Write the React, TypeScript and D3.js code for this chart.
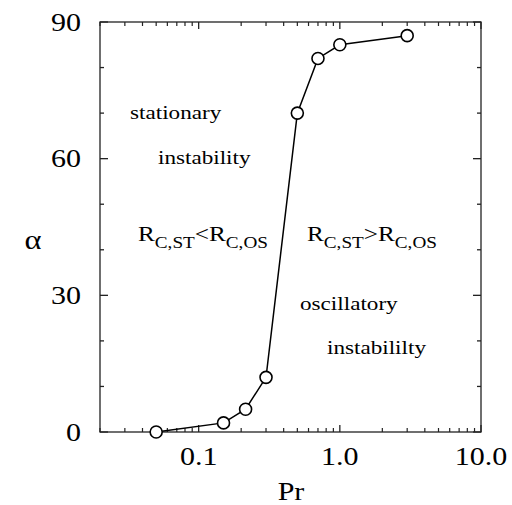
import React from "react";
import * as d3 from "d3";

const prValues = [0.05, 0.15, 0.215, 0.3, 0.5, 0.7, 1.0, 3.0];
const alphaValues = [0, 2, 5, 12, 70, 82, 85, 87];
const xTickLabels = ["0.1", "1.0", "10.0"];
const xTickValues = [0.1, 1, 10];
const yTickValues = [0, 30, 60, 90];

const W = 512;
const H = 505;
const left = 100;
const right = 481;
const top = 22;
const bottom = 432;
const SX = 1.2;
const FONT = "'Liberation Serif', 'Times New Roman', serif";

export default function App() {
  const x = d3.scaleLog().domain([0.02, 10]).range([left, right]);
  const y = d3.scaleLinear().domain([0, 90]).range([bottom, top]);

  const minorX: number[] = [];
  [0.01, 0.1, 1].forEach((dec) => {
    for (let k = 2; k <= 9; k++) {
      const v = dec * k;
      if (v >= 0.02 && v <= 10) minorX.push(v);
    }
  });
  const yTicksAll = d3.range(0, 91, 10);

  const pts = prValues.map((p, i) => [x(p), y(alphaValues[i])] as [number, number]);
  const line = d3.line()(pts) || "";

  const txt = (
    tx: number,
    ty: number,
    content: React.ReactNode,
    size: number,
    anchor: "start" | "middle" | "end" = "start",
    key?: string
  ) => (
    <text
      key={key}
      transform={`translate(${tx},${ty}) scale(${SX},1)`}
      fontFamily={FONT}
      fontSize={size}
      textAnchor={anchor}
      fill="#000"
    >
      {content}
    </text>
  );

  const rLabel = (tx: number, ty: number, op: string) => (
    <text
      transform={`translate(${tx},${ty}) scale(${SX},1)`}
      fontFamily={FONT}
      fontSize={21}
      fill="#000"
    >
      <tspan>R</tspan>
      <tspan fontSize={16} dy={7}>C,ST</tspan>
      <tspan dy={-7}>{op}R</tspan>
      <tspan fontSize={16} dy={7}>C,OS</tspan>
    </text>
  );

  return (
    <svg
      width={W}
      height={H}
      style={{ position: "absolute", left: 0, top: 0, background: "#fff" }}
    >
      <rect x={0} y={0} width={W} height={H} fill="#fff" />
      {/* frame */}
      <rect
        x={left}
        y={top}
        width={right - left}
        height={bottom - top}
        fill="none"
        stroke="#222"
        strokeWidth={1.3}
      />
      {/* x ticks */}
      {minorX.map((v, i) => (
        <g key={"mx" + i}>
          <line x1={x(v)} x2={x(v)} y1={bottom} y2={bottom - 4} stroke="#222" strokeWidth={1.2} />
          <line x1={x(v)} x2={x(v)} y1={top} y2={top + 4} stroke="#222" strokeWidth={1.2} />
        </g>
      ))}
      {xTickValues.map((v, i) => (
        <g key={"Mx" + i}>
          <line x1={x(v)} x2={x(v)} y1={bottom} y2={bottom - 7} stroke="#222" strokeWidth={1.3} />
          <line x1={x(v)} x2={x(v)} y1={top} y2={top + 7} stroke="#222" strokeWidth={1.3} />
          {txt(x(v), 465, xTickLabels[i], 25, "middle")}
        </g>
      ))}
      {/* y ticks */}
      {yTicksAll.map((v) => {
        const major = v % 30 === 0;
        const len = major ? 8 : 4;
        return (
          <g key={"y" + v}>
            <line x1={left} x2={left + len} y1={y(v)} y2={y(v)} stroke="#222" strokeWidth={1.3} />
            <line x1={right} x2={right - len} y1={y(v)} y2={y(v)} stroke="#222" strokeWidth={1.3} />
          </g>
        );
      })}
      {yTickValues.map((v) => txt(81, y(v) + 8.5, String(v), 25, "end", "yl" + v))}
      {/* axis titles */}
      {txt(291, 500, "Pr", 25, "middle")}
      {txt(33, 249, "α", 27, "middle")}
      {/* annotations */}
      {txt(130, 119, "stationary", 19.3)}
      {txt(158, 164, "instability", 19.3)}
      {rLabel(138, 241, "<")}
      {rLabel(307, 241, ">")}
      {txt(300, 310, "oscillatory", 19.3)}
      {txt(327, 354, "instabililty", 19.3)}
      {/* data */}
      <path d={line} fill="none" stroke="#000" strokeWidth={1.5} />
      {pts.map((p, i) => (
        <circle key={"c" + i} cx={p[0]} cy={p[1]} r={6} fill="#fff" stroke="#000" strokeWidth={1.6} />
      ))}
    </svg>
  );
}
